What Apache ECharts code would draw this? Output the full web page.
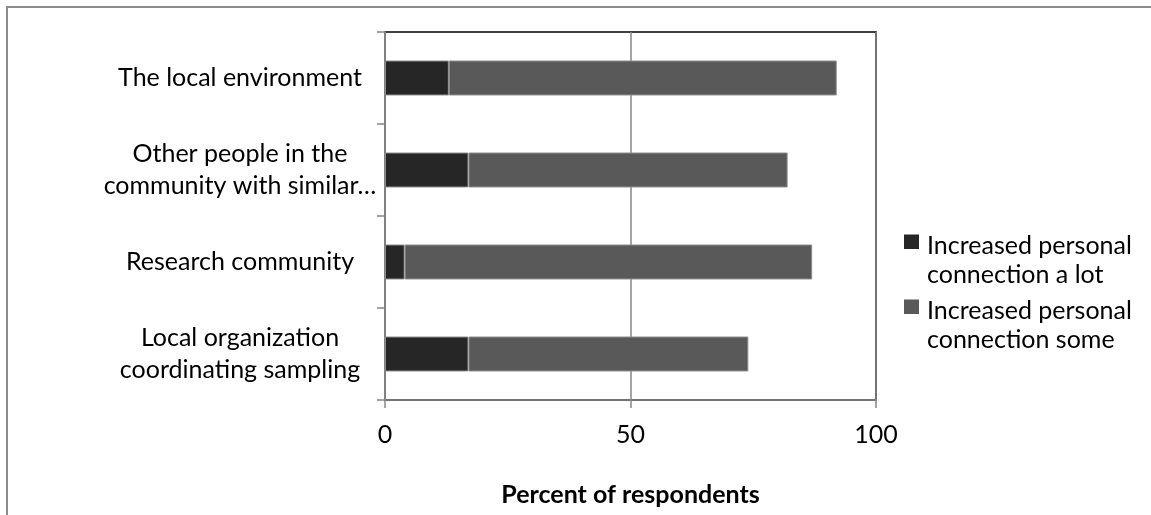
<!DOCTYPE html>
<html>
<head>
<meta charset="utf-8">
<script src="https://cdn.jsdelivr.net/npm/echarts@6/dist/echarts.min.js"></script>
<style>html,body{margin:0;padding:0;background:#fff;}#c{width:1151px;height:515px;}</style>
</head>
<body>
<div id="c"></div>
<script>
var categories = ["The local environment", "Other people in the\ncommunity with similar\u2026", "Research community", "Local organization\ncoordinating sampling"];
var seriesNames = ["Increased personal\nconnection a lot", "Increased personal\nconnection some"];
var aLot = [13, 17, 4, 17];
var some = [79, 65, 83, 57];
var xTicks = [0, 50, 100];

var FONT = "Lato";
var legendIcon = 'path://M0,0L0.001,0L0.001,0.001Z M0,2.5L15,2.5L15,17L0,17Z M0,56.999L0.001,56.999L0.001,57Z';
var chart = echarts.init(document.getElementById('c'), null, {renderer: 'canvas'});
chart.setOption({
  animation: false,
  backgroundColor: '#ffffff',
  textStyle: {fontFamily: FONT},
  graphic: [{
    type: 'rect', silent: true,
    shape: {x: 7, y: 7, width: 1200, height: 600},
    style: {fill: 'none', stroke: '#8c8c8c', lineWidth: 2}
  }],
  grid: {left: 385, right: 275, top: 32, bottom: 115, show: true, borderColor: '#000000', borderWidth: 1.5, backgroundColor: 'transparent'},
  legend: {
    orient: 'vertical', left: 899, top: 227, itemWidth: 15, itemHeight: 57, itemGap: 8,
    itemStyle: {borderWidth: 0},
    textStyle: {fontFamily: FONT, fontSize: 25, color: '#000', lineHeight: 28.5, padding: [0, 0, 0, 3]},
    data: seriesNames.map(function(n){return {name: n, icon: legendIcon};})
  },
  xAxis: {
    type: 'value', min: xTicks[0], max: xTicks[xTicks.length - 1], interval: 50,
    name: 'Percent of respondents', nameLocation: 'middle', nameGap: 82,
    nameTextStyle: {fontFamily: FONT, fontSize: 25, fontWeight: 'bold', color: '#000'},
    axisLine: {show: true, lineStyle: {color: '#868686', width: 1.5}},
    axisTick: {show: true, length: 8, lineStyle: {color: '#868686', width: 1.5}},
    axisLabel: {fontFamily: FONT, fontSize: 25, color: '#000', margin: 22},
    splitLine: {show: true, lineStyle: {color: '#868686', width: 1.5}}
  },
  yAxis: {
    type: 'category', inverse: true, data: categories,
    axisLine: {show: true, lineStyle: {color: '#868686', width: 1.5}},
    axisTick: {show: true, length: 8, lineStyle: {color: '#868686', width: 1.5}},
    axisLabel: {fontFamily: FONT, fontSize: 25, color: '#000', margin: 145, lineHeight: 32, align: 'center'},
    splitLine: {show: false}
  },
  series: [
    {name: seriesNames[0], type: 'bar', stack: 'total', data: aLot, barWidth: '38%',
     itemStyle: {color: '#262626', borderColor: '#8c8c8c', borderWidth: 1}},
    {name: seriesNames[1], type: 'bar', stack: 'total', data: some, barWidth: '38%',
     itemStyle: {color: '#595959', borderColor: '#8c8c8c', borderWidth: 1}}
  ]
});
</script>
</body>
</html>
